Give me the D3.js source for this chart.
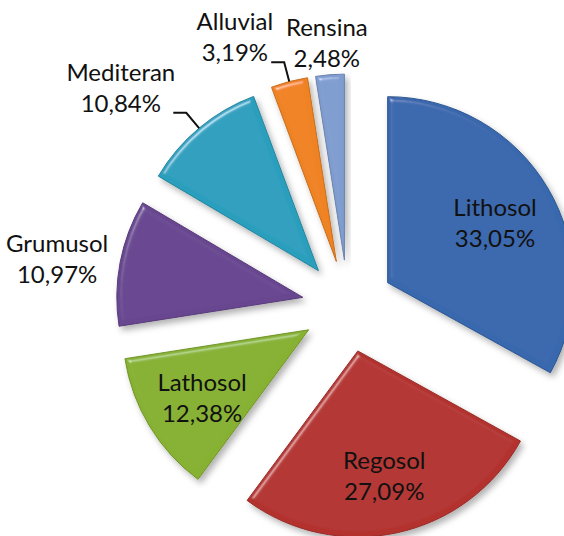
<!DOCTYPE html>
<html>
<head>
<meta charset="utf-8">
<script src="https://cdn.jsdelivr.net/npm/d3@7/dist/d3.min.js"></script>
<style>
  body { margin: 0; background: #fff; }
  text { font-family: Lato, "Open Sans", sans-serif; fill: #111; }
</style>
</head>
<body>
<div id="chart"></div>
<script>
// soil types and their share of the area (%)
var categories = ["Lithosol", "Regosol", "Lathosol", "Grumusol", "Mediteran", "Alluvial", "Rensina"];
var shares = [33.05, 27.09, 12.38, 10.97, 10.84, 3.19, 2.48];
var colors = ["#3867ad", "#b3322f", "#86b130", "#684690", "#2a9fbd", "#ef8220", "#7f9ccf"];
var labelModes = ["inside", "inside", "inside", "outside", "leader", "leader", "outside"];

var width = 564, height = 536;
var cx = 348, cy = 306, radius = 186, explode = 46;
var fontSize = 24, lineGap = 31;

var data = categories.map(function(c, i) {
  return {name: c, value: shares[i], color: colors[i], mode: labelModes[i]};
});

var fmt = function(v) { return d3.format(".2f")(v).replace(".", ",") + "%"; };

var svg = d3.select("#chart").append("svg")
  .attr("width", width)
  .attr("height", height);

var defs = svg.append("defs");

// bevel + soft shadow, roughly like the office chart style
var f = defs.append("filter").attr("id", "bevel")
  .attr("x", "-10%").attr("y", "-10%").attr("width", "130%").attr("height", "130%");
f.append("feGaussianBlur").attr("in", "SourceAlpha").attr("stdDeviation", 2.5).attr("result", "blur");
var spec = f.append("feSpecularLighting").attr("in", "blur")
  .attr("surfaceScale", 4).attr("specularConstant", 0.9).attr("specularExponent", 40)
  .attr("lighting-color", "#ffffff").attr("result", "spec");
spec.append("feDistantLight").attr("azimuth", 235).attr("elevation", 40);
f.append("feComposite").attr("in", "spec").attr("in2", "SourceAlpha").attr("operator", "in").attr("result", "specIn");
f.append("feComposite").attr("in", "SourceGraphic").attr("in2", "specIn")
  .attr("operator", "arithmetic").attr("k1", 0).attr("k2", 1).attr("k3", 0.45).attr("k4", 0).attr("result", "lit");
f.append("feGaussianBlur").attr("in", "SourceAlpha").attr("stdDeviation", 3).attr("result", "sblur");
f.append("feOffset").attr("in", "sblur").attr("dx", 3).attr("dy", 4).attr("result", "off");
f.append("feFlood").attr("flood-color", "#000").attr("flood-opacity", 0.3);
f.append("feComposite").attr("in2", "off").attr("operator", "in").attr("result", "shadow");
var merge = f.append("feMerge");
merge.append("feMergeNode").attr("in", "shadow");
merge.append("feMergeNode").attr("in", "lit");

var pie = d3.pie().sort(null).value(function(d) { return d.value; });
var arc = d3.arc().innerRadius(0).outerRadius(radius);

var arcs = pie(data);
arcs.forEach(function(a) {
  var mid = (a.startAngle + a.endAngle) / 2;
  a.dir = [Math.sin(mid), -Math.cos(mid)];
  a.ox = cx + a.dir[0] * explode;
  a.oy = cy + a.dir[1] * explode;
});

var slices = svg.append("g").selectAll("g.slice")
  .data(arcs)
  .enter().append("g")
  .attr("class", "slice")
  .attr("transform", function(d) { return "translate(" + d.ox + "," + d.oy + ")"; });

slices.append("path")
  .attr("d", arc)
  .attr("fill", function(d) { return d.data.color; })
  .attr("stroke", function(d) { return d3.color(d.data.color).darker(0.5); })
  .attr("stroke-width", 1)
  .attr("filter", "url(#bevel)");

// labels
var labels = svg.append("g");

function addLabel(x, y, d) {
  // x,y = centre of the two-line block
  var t = labels.append("text")
    .attr("text-anchor", "middle")
    .style("font-size", fontSize + "px");
  var base = y - lineGap / 2 + fontSize * 0.36;
  t.append("tspan").attr("x", x).attr("y", base).text(d.data.name);
  t.append("tspan").attr("x", x).attr("y", base + lineGap).text(fmt(d.data.value));
  return t;
}

arcs.forEach(function(d) {
  var ax = d.ox + d.dir[0] * radius, ay = d.oy + d.dir[1] * radius; // arc midpoint
  if (d.data.mode === "inside") {
    var k = radius * 0.67;
    addLabel(d.ox + d.dir[0] * k, d.oy + d.dir[1] * k + 3, d);
  } else if (d.data.mode === "outside") {
    var t = addLabel(0, 0, d);
    var bb = t.node().getBBox();
    var hw = bb.width / 2 + 4, hh = bb.height / 2 + 2;
    var s = Math.min(hw / Math.abs(d.dir[0] || 1e-6), hh / Math.abs(d.dir[1] || 1e-6)) + 8;
    t.attr("transform", "translate(" + (ax + d.dir[0] * s) + "," + (ay + d.dir[1] * s + 8) + ")");
  } else {
    var ex = ax + d.dir[0] * 20, ey = ay + d.dir[1] * 20;
    labels.append("path")
      .attr("d", "M" + ax + "," + ay + "L" + ex + "," + ey + "L" + (ex - 13) + "," + ey)
      .attr("fill", "none").attr("stroke", "#111").attr("stroke-width", 2);
    var t2 = addLabel(0, 0, d);
    var bb2 = t2.node().getBBox();
    var lx = ex - 13 - 2 - bb2.width / 2 + 4;
    var ly = ey - lineGap / 2 - fontSize * 0.36 - 1;
    t2.attr("transform", "translate(" + lx + "," + ly + ")");
  }
});
</script>
</body>
</html>
